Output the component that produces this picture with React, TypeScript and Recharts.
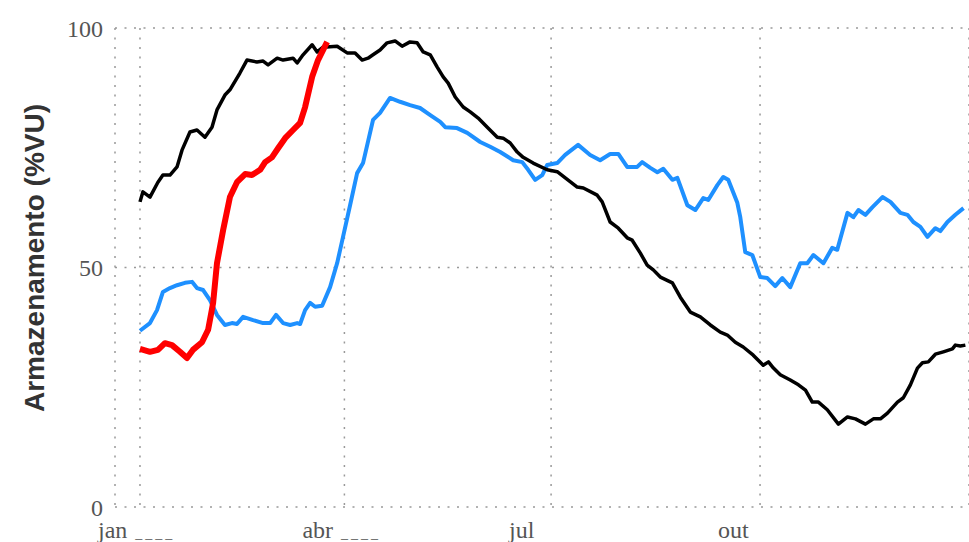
import React from 'react';
import { LineChart, Line, XAxis, YAxis, CartesianGrid, Label } from 'recharts';

// day of year, % of useful volume
const blackSeries: [number, number][] = [
  [0, 63.7], [1.3, 65.8], [4.4, 64.7], [7.9, 67.8], [10.1, 69.3], [13.2, 69.3], [16.3, 71], [18.5, 74.5],
  [22, 78.3], [25.1, 78.7], [28.6, 77.2], [31.7, 79.3], [33.9, 82.9], [37.4, 86], [39.6, 87.1], [44, 90.6],
  [47.1, 93.3], [51.5, 92.9], [54.2, 93.1], [56.4, 92.3], [60.4, 93.7], [63, 93.3], [67.4, 93.7], [69.2, 92.7],
  [71.8, 94.4], [75.8, 96.5], [78, 95], [80.6, 96], [86.8, 96.2], [91.2, 94.8], [94.7, 94.8], [97.8, 93.3],
  [100.4, 93.7], [102.6, 94.4], [105.7, 95.4], [108.8, 96.9], [112.3, 97.3], [115.4, 96.2], [118.9, 97.1],
  [122, 96.9], [124.7, 95], [127.8, 94.4], [130.8, 91.9], [133.5, 89.8], [135.7, 88.5], [138.8, 85.6],
  [142.3, 83.5], [145.4, 82.5], [148.9, 81.2], [152.9, 79.3], [157.3, 77.2], [159.9, 77], [163, 76],
  [166.1, 74.1], [168.7, 73], [173.1, 71.8], [179.3, 70.4], [183.7, 70], [192.5, 66.8], [195.2, 66.6],
  [201.3, 65.1], [203.5, 63.7], [207, 59.5], [210.6, 58.2], [214.5, 56.2], [216.7, 55.7], [220.3, 53],
  [223.3, 50.5], [226, 49.5], [229.1, 48], [234.4, 46.8], [237.9, 43.8], [242.3, 40.7], [246.7, 39.7],
  [251.1, 38], [255.5, 36.5], [258.6, 35.9], [262.1, 34.4], [265.6, 33.4], [270, 31.7], [274.4, 29.6],
  [276.7, 30.3], [278.9, 29], [281.9, 27.6], [286.3, 26.5], [289.9, 25.5], [293, 24.4], [296, 21.9],
  [298.7, 21.9], [302.6, 20.3], [307.5, 17.3], [311.5, 18.8], [315, 18.4], [319.4, 17.3], [322.9, 18.4],
  [326, 18.4], [329.1, 19.6], [333.5, 21.9], [336.1, 22.8], [339.2, 25.5], [342.3, 29], [344.5, 30.1],
  [347.1, 30.3], [350.2, 31.9], [353.7, 32.4], [357.7, 33], [359, 33.8], [361.2, 33.6], [363.4, 33.8],
];

const blueSeries: [number, number][] = [
  [0, 36.8], [4.4, 38.4], [7.5, 41.1], [10.1, 44.9], [13.2, 45.7], [16.3, 46.3], [19.8, 46.8], [22.9, 47],
  [25.1, 45.7], [27.8, 45.3], [30.8, 43.2], [33.9, 40.1], [37.4, 38], [40.5, 38.4], [42.7, 38.2], [45.4, 39.7],
  [49.8, 39], [54.2, 38.4], [57.3, 38.4], [59.9, 40.1], [63, 38.4], [66.1, 38], [69.2, 38.4], [70.5, 38.2],
  [72.7, 41.1], [74.9, 42.6], [77.1, 41.8], [80.2, 42], [83.7, 45.9], [86.8, 50.9], [89.4, 56.4], [92.5, 63],
  [95.6, 69.7], [98.2, 71.8], [102.6, 80.8], [105.7, 82.3], [110.1, 85.4], [114.5, 84.6], [118.9, 83.9],
  [123.3, 83.3], [127.8, 81.8], [132.2, 80.4], [134.4, 79.3], [139.6, 79.1], [144.1, 78.1], [149.8, 76.2],
  [154.2, 75.2], [158.6, 74.1], [164.3, 72.4], [168.3, 72], [170.9, 70.4], [174, 68.3], [177.1, 69.3],
  [179.3, 71.4], [183.7, 71.8], [187.2, 73.5], [192.9, 75.6], [198.2, 73.5], [202.6, 72.4], [207, 73.7],
  [210.6, 73.7], [214.5, 71], [218.9, 71], [221.1, 72], [224.7, 70.8], [227.8, 69.9], [230.4, 70.6],
  [234.4, 68.3], [236.6, 68.7], [241, 63], [244.5, 62], [248, 64.5], [250.2, 64.1], [254.2, 67.2],
  [256.8, 68.9], [259, 68.3], [263, 63.5], [264.3, 60.5], [266.5, 53.2], [269.6, 52.6], [273.1, 48],
  [276.2, 47.8], [279.7, 46.1], [282.8, 47.8], [286.3, 45.9], [290.7, 50.9], [293.8, 50.9], [296.5, 52.6],
  [300.9, 50.9], [304.8, 54.1], [307, 53.7], [311.5, 61.4], [314.1, 60.5], [316.3, 62], [319.4, 61],
  [322.5, 62.6], [326.9, 64.7], [330.4, 63.7], [334.8, 61.4], [337.9, 61], [340.5, 59.5], [343.6, 58.5],
  [346.7, 56.4], [350.2, 58.2], [352.4, 57.6], [355.5, 59.5], [359, 61], [362.6, 62.4],
];

const redSeries: [number, number][] = [
  [0, 33], [4.4, 32.4], [7.9, 32.8], [11, 34.2], [14.1, 33.8], [17.6, 32.4], [20.7, 31.1], [23.3, 32.8],
  [27.3, 34.4], [30, 37], [32.2, 42.6], [33.9, 50.9], [36.6, 57.8], [39.6, 64.7], [42.7, 67.8], [46.3, 69.5],
  [49.3, 69.3], [52.9, 70.4], [55.1, 72], [58.1, 73], [60.8, 74.9], [63.9, 77], [67.4, 78.7], [70.5, 80.2],
  [72.7, 83.5], [75.8, 89.8], [78.4, 93.3], [82.4, 97.1],
];

const xTicks = [0, 90, 181, 273];
const xTickMonths = ['jan', 'abr', 'jul', 'out'];
const xTickYears = ['____', '____', '', ''];
const yTicks = [0, 50, 100];

const toRows = (s: [number, number][]) => s.map(([d, v]) => ({ d, v }));

const MonthTick = (props: any) => {
  const { x, y, payload } = props;
  const i = xTicks.indexOf(payload.value);
  return (
    <text x={x - 42} y={y} dy="0.95em" textAnchor="start" fill="#555" fontSize={24} fontFamily="'Liberation Serif', serif">
      {xTickMonths[i]}
      {xTickYears[i] && (
        <tspan dx={8} fontSize={14} letterSpacing={3}>{xTickYears[i]}</tspan>
      )}
    </text>
  );
};

const AxisTitle = () => (
  <text
    transform="translate(34,258) rotate(-90)"
    textAnchor="middle"
    dominantBaseline="central"
    fill="#333"
    fontSize={28}
    fontWeight="bold"
    fontFamily="'Liberation Sans', Arial, sans-serif"
  >
    Armazenamento (%VU)
  </text>
);

export default function App() {
  return (
    <div style={{ position: 'absolute', left: 0, top: 0, background: '#fff' }}>
      <LineChart width={969} height={542} margin={{ top: 28, right: 0, bottom: 0, left: 0 }}>
        <CartesianGrid stroke="#999" strokeWidth={1.5} strokeDasharray="2 7.5" />
        <XAxis
          type="number"
          dataKey="d"
          domain={[-11, 365]}
          ticks={xTicks}
          axisLine={false}
          tickLine={false}
          height={35}
          tick={<MonthTick />}
          allowDataOverflow
        />
        <YAxis
          type="number"
          domain={[0, 100]}
          ticks={yTicks}
          width={115}
          axisLine={false}
          tickLine={false}
          tickMargin={6}
          tick={{ fill: '#555', fontSize: 24, fontFamily: "'Liberation Serif', serif" }}
        >
          <Label content={<AxisTitle />} />
        </YAxis>
        <Line data={toRows(blueSeries)} dataKey="v" type="linear" stroke="#1e90ff" strokeWidth={4} strokeLinejoin="round" dot={false} isAnimationActive={false} />
        <Line data={toRows(blackSeries)} dataKey="v" type="linear" stroke="#000" strokeWidth={3.5} strokeLinejoin="round" dot={false} isAnimationActive={false} />
        <Line data={toRows(redSeries)} dataKey="v" type="linear" stroke="#ff0000" strokeWidth={6} strokeLinejoin="round" dot={false} isAnimationActive={false} />
      </LineChart>
    </div>
  );
}
